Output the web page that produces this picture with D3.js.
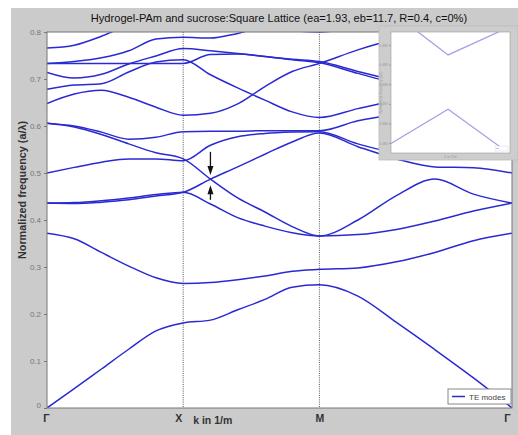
<!DOCTYPE html>
<html><head><meta charset="utf-8">
<script src="https://cdn.jsdelivr.net/npm/d3@7"></script>
<style>body{margin:0;background:#fff}svg{display:block}</style>
</head><body>
<svg id="c" width="518" height="435"></svg>
<script>
// ---- data ----
const kPath = [0,0.2,0.4,0.6,0.8,1, 1.2,1.4,1.6,1.8,2, 2.2828,2.5657,2.8485,3.1314,3.4142];
const kTickPos = [0,1,2,3.4142];
const kTickLabels = ["Γ","X","M","Γ"];
const fTicks = [0,0.1,0.2,0.3,0.4,0.5,0.6,0.7,0.8];
const fTickLabels = ["0","0.1","0.2","0.3","0.4","0.5","0.6","0.7","0.8"];

const band1  = [0,0.041,0.083,0.125,0.164,0.181, 0.187,0.209,0.231,0.257,0.262, 0.238,0.182,0.124,0.064,0];
const band2  = [0.372,0.360,0.331,0.302,0.277,0.265, 0.267,0.273,0.281,0.291,0.295, 0.298,0.311,0.331,0.356,0.372];
const band3a = [0.436,0.437,0.441,0.447,0.454,0.459, 0.434,0.405,0.387,0.373,0.366, 0.400,0.452,0.487,0.455,0.436];
const band3b = [0.436,0.435,0.438,0.443,0.451,0.459, 0.487,0.513,0.540,0.566,0.585, 0.556,0.530,0.513,0.511,0.500];
const band4a = [0.500,0.512,0.523,0.530,0.530,0.526, 0.559,0.577,0.584,0.587,0.588, 0.562,0.545,0.550,0.575,0.606];
const band5a = [0.606,0.598,0.582,0.562,0.543,0.530, 0.487,0.447,0.417,0.386,0.366, 0.369,0.380,0.398,0.419,0.436];
const band5b = [0.606,0.600,0.587,0.572,0.576,0.588, 0.589,0.589,0.590,0.590,0.590, 0.611,0.625,0.635,0.640,0.648];
const band6  = [0.648,0.668,0.676,0.661,0.640,0.623, 0.627,0.647,0.684,0.716,0.733, 0.762,0.785,0.800,0.790,0.772];
const band7  = [0.678,0.687,0.690,0.715,0.736,0.741, 0.709,0.681,0.655,0.630,0.618, 0.637,0.655,0.670,0.680,0.678];
const band8  = [0.714,0.702,0.710,0.732,0.749,0.765, 0.760,0.754,0.748,0.742,0.737, 0.716,0.697,0.690,0.700,0.714];
const band9  = [0.733,0.733,0.733,0.733,0.733,0.733, 0.752,0.753,0.748,0.741,0.735, 0.712,0.694,0.700,0.720,0.733];
const band10 = [0.766,0.772,0.791,0.815,0.830,0.840, 0.850,0.860,0.860,0.850,0.840, 0.840,0.830,0.820,0.800,0.772];
const band11 = [0.733,0.737,0.745,0.760,0.785,0.789, 0.787,0.797,0.810,0.803,0.800, 0.810,0.830,0.840,0.820,0.800];
const bands = [band1,band2,band3a,band3b,band4a,band5a,band5b,band6,band7,band8,band9,band10,band11];

// arrows marking the gap (k, f from -> f to)
const arrowK = 1.2;
const arrowDown = [0.545, 0.496];
const arrowUp = [0.443, 0.474];

// inset (zoom on the gap)
const insetK = [1.1885, 1.1994, 1.2125];
const insetUpper = [0.49117, 0.48949, 0.49070];
const insetLowerK = [1.185, 1.1994, 1.2130];
const insetLower = [0.48498, 0.48672, 0.48473];
const insetTicks = [0.485,0.486,0.487,0.488,0.489,0.490];

const title = "Hydrogel-PAm and sucrose:Square Lattice (ea=1.93, eb=11.7, R=0.4, c=0%)";
const yLabel = "Normalized frequency (a/λ)";
const xLabel = "k in 1/m";
const legendLabel = "TE modes";

// ---- drawing ----
const svg = d3.select("#c");
const FONT = "'Liberation Sans', Arial, sans-serif";
const BLUE = "#2a2ad2";

svg.append("rect").attr("x",0).attr("y",0).attr("width",518).attr("height",435).attr("fill","#fff");
svg.append("rect").attr("x",11).attr("y",8).attr("width",507).attr("height",427).attr("fill","#cbcbcb");

const L=47, R=512, T=32, B=408;
const x = d3.scaleLinear().domain([0, kTickPos[3]]).range([L,R]);
const y = d3.scaleLinear().domain([0,0.8]).range([B,T]);

svg.append("rect").attr("x",L).attr("y",T).attr("width",R-L).attr("height",B-T).attr("fill","#fff");

svg.append("defs").append("clipPath").attr("id","clip")
  .append("rect").attr("x",L).attr("y",T).attr("width",R-L).attr("height",B-T);

// dotted symmetry lines
svg.append("g").selectAll("line").data(kTickPos.slice(1,3)).join("line")
  .attr("x1",d=>x(d)).attr("x2",d=>x(d)).attr("y1",T).attr("y2",B)
  .attr("stroke","#555").attr("stroke-width",1).attr("stroke-dasharray","1,1.2");

// bands
const line = d3.line().x((d,i)=>x(kPath[i])).y(d=>y(d)).curve(d3.curveMonotoneX);
svg.append("g").attr("clip-path","url(#clip)").selectAll("path").data(bands).join("path")
  .attr("d",line).attr("fill","none").attr("stroke",BLUE).attr("stroke-width",1.5)
  .attr("stroke-linejoin","round");

// axes box
svg.append("rect").attr("x",L).attr("y",T).attr("width",R-L).attr("height",B-T)
  .attr("fill","none").attr("stroke","#777").attr("stroke-width",1);

// y axis
const yAxis = d3.axisLeft(y).tickValues(fTicks).tickFormat((d,i)=>fTickLabels[i]).tickSize(3).tickPadding(3);
const gy = svg.append("g").attr("transform",`translate(${L},0)`).call(yAxis);
gy.select(".domain").remove();
gy.selectAll("line").attr("stroke","#777");
gy.selectAll("text").attr("font-family",FONT).attr("font-size",8).attr("fill","#777")
  .attr("dy",(d,i)=> i===0 ? "-0.05em" : "0.32em");

// x axis labels
const xAxis = d3.axisBottom(x).tickValues(kTickPos).tickFormat((d,i)=>kTickLabels[i]).tickSize(0).tickPadding(7);
const gx = svg.append("g").attr("transform",`translate(0,${B})`).call(xAxis);
gx.select(".domain").remove();
gx.selectAll("text").attr("font-family",FONT).attr("font-size",10.5).attr("font-weight","bold")
  .attr("fill","#333").attr("dx",(d,i)=> i===0 ? -1 : (i===2 ? 0 : -5));

svg.append("text").attr("x",x(1)+10).attr("y",B+16).attr("font-family",FONT).attr("font-size",10.5)
  .attr("font-weight","bold").attr("fill","#333").text(xLabel);

svg.append("text").attr("transform","translate(26,190) rotate(-90)").attr("text-anchor","middle")
  .attr("font-family",FONT).attr("font-size",10.8).attr("font-weight","bold").attr("fill","#333").text(yLabel);

svg.append("text").attr("x",279).attr("y",22).attr("text-anchor","middle").attr("font-family",FONT)
  .attr("font-size",11.1).attr("fill","#111").text(title);

// arrows
function arrow(k, f0, f1){
  const xa = x(k), y0 = y(f0), y1 = y(f1);
  const dir = Math.sign(y1-y0);
  svg.append("line").attr("x1",xa).attr("x2",xa).attr("y1",y0).attr("y2",y1-dir*7)
    .attr("stroke","#111").attr("stroke-width",1.3);
  svg.append("path").attr("d",`M${xa},${y1} L${xa-3},${y1-dir*9} L${xa+3},${y1-dir*9} Z`).attr("fill","#111");
}
arrow(arrowK, arrowDown[0], arrowDown[1]);
arrow(arrowK, arrowUp[0], arrowUp[1]);

// legend
const lg = svg.append("g");
lg.append("rect").attr("x",448).attr("y",389).attr("width",63).attr("height",15)
  .attr("fill","#fff").attr("stroke","#888").attr("stroke-width",1);
lg.append("line").attr("x1",452).attr("x2",465).attr("y1",396.5).attr("y2",396.5)
  .attr("stroke",BLUE).attr("stroke-width",1.5);
lg.append("text").attr("x",469).attr("y",399.5).attr("font-family",FONT).attr("font-size",8)
  .attr("fill","#444").text(legendLabel);

// inset
const IL=391, IR=510, IT=32, IB=153;
svg.append("rect").attr("x",379).attr("y",26).attr("width",139).attr("height",134).attr("fill","#cdcdcd")
  .attr("stroke","#bbb").attr("stroke-width",0.8);
svg.append("rect").attr("x",IL).attr("y",IT).attr("width",IR-IL).attr("height",IB-IT).attr("fill","#fff")
  .attr("stroke","#999").attr("stroke-width",0.6);
const xi = d3.scaleLinear().domain([1.185,1.215]).range([IL,IR]);
const yi = d3.scaleLinear().domain([0.48449,0.49066]).range([IB,IT]);
svg.append("defs").append("clipPath").attr("id","clipi")
  .append("rect").attr("x",IL).attr("y",IT).attr("width",IR-IL).attr("height",IB-IT);
const gi = svg.append("g").attr("clip-path","url(#clipi)");
gi.append("path").datum(insetUpper).attr("d",d3.line().x((d,i)=>xi(insetK[i])).y(d=>yi(d)))
  .attr("fill","none").attr("stroke","#a3a3e2").attr("stroke-width",1.3);
gi.append("path").datum(insetLower).attr("d",d3.line().x((d,i)=>xi(insetLowerK[i])).y(d=>yi(d)))
  .attr("fill","none").attr("stroke","#a3a3e2").attr("stroke-width",1.3);
const yiAxis = d3.axisLeft(yi).tickValues(insetTicks).tickFormat(d3.format(".3f")).tickSize(2).tickPadding(1);
const giy = svg.append("g").attr("transform",`translate(${IL},0)`).call(yiAxis);
giy.select(".domain").remove();
giy.selectAll("line").attr("stroke","#999");
giy.selectAll("text").attr("font-family",FONT).attr("font-size",3.5).attr("fill","#999");
svg.append("text").attr("x",(IL+IR)/2).attr("y",158).attr("text-anchor","middle").attr("font-family",FONT)
  .attr("font-size",3.5).attr("fill","#999").text(xLabel);
svg.append("text").attr("transform",`translate(382,${(IT+IB)/2}) rotate(-90)`).attr("text-anchor","middle")
  .attr("font-family",FONT).attr("font-size",3.5).attr("fill","#999").text(yLabel);
svg.append("rect").attr("x",495).attr("y",146).attr("width",13).attr("height",5).attr("fill","#fff").attr("stroke","#ccc").attr("stroke-width",0.4);
svg.append("line").attr("x1",496).attr("x2",499).attr("y1",148.5).attr("y2",148.5).attr("stroke","#a3a3e2").attr("stroke-width",0.6);
</script>
</body></html>
